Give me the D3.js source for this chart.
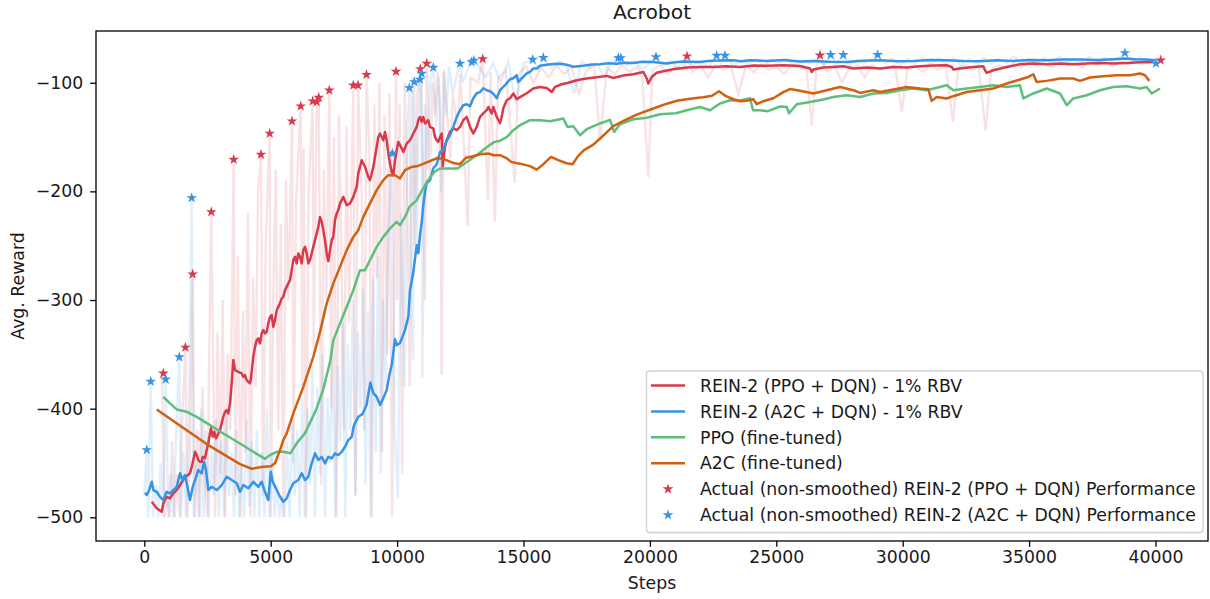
<!DOCTYPE html>
<html>
<head>
<meta charset="utf-8">
<script src="https://cdn.jsdelivr.net/npm/d3@7"></script>
<style>
  body { margin: 0; background: #fff; }
  text { font-family: "DejaVu Sans", sans-serif; fill: #1a1a1a; }
</style>
</head>
<body>
<svg id="chart" width="1210" height="599"></svg>
<script>
// [step, avg reward]
const rawPpo = [
  [700,-367],[800,-500],[900,-480],[1000,-500],[1100,-430],[1200,-500],[1300,-460],[1400,-500],[1500,-410],[1625,-344],
  [1700,-500],[1800,-450],[1913,-276],[2000,-500],[2100,-420],[2200,-500],[2300,-380],[2400,-470],[2500,-500],[2560,-360],
  [2650,-219],[2800,-500],[2900,-330],[3000,-460],[3100,-300],[3200,-500],[3300,-350],[3400,-420],[3536,-171],[3600,-480],
  [3700,-260],[3800,-500],[3900,-310],[4000,-440],[4100,-220],[4200,-500],[4300,-280],[4400,-380],[4500,-200],[4616,-166],
  [4700,-480],[4800,-250],[4960,-147],[5000,-500],[5100,-300],[5200,-180],[5300,-420],[5400,-230],[5500,-500],[5600,-190],
  [5700,-300],[5843,-135],[5900,-450],[6000,-210],[6186,-122],[6250,-380],[6300,-160],[6400,-500],[6500,-200],[6661,-117],
  [6700,-350],[6820,-118],[6899,-114],[7000,-470],[7100,-180],[7200,-300],[7318,-107],[7400,-400],[7500,-150],[7600,-500],
  [7700,-130],[7800,-260],[7900,-420],[8000,-140],[8100,-320],[8268,-102],[8350,-480],[8454,-102],[8600,-200],[8700,-420],
  [8790,-93],[8900,-160],[9000,-500],[9100,-120],[9200,-280],[9300,-100],[9400,-440],[9500,-130],[9600,-350],[9700,-110],
  [9800,-500],[9957,-90],[10000,-300],[10100,-120],[10200,-460],[10300,-100],[10400,-200],[10500,-380],[10600,-95],[10700,-250],
  [10800,-110],[10918,-87],[11000,-160],[11100,-300],[11171,-82],[11300,-190],[11400,-100],[11500,-130],[11600,-90],[11700,-120],
  [11760,-369],[11850,-88],[12100,-170],[12200,-110],[12400,-140],[12500,-92],[12793,-232],[12900,-95],[13200,-100],[13386,-78],
  [13592,-208],[13700,-90],[13869,-228],[14000,-96],[14300,-88],[14652,-192],[14800,-92],[15100,-85],[15400,-100],[15700,-86],
  [16000,-95],[16300,-84],[16600,-92],[16900,-86],[17200,-110],[17500,-88],[17800,-84],[18027,-153],[18300,-86],[18600,-92],
  [18900,-84],[19200,-90],[19500,-85],[19700,-95],[19937,-187],[20100,-88],[20400,-84],[20700,-92],[21000,-85],[21300,-88],
  [21468,-76],[21700,-90],[22000,-84],[22300,-95],[22600,-84],[22900,-88],[23200,-85],[23500,-110],[23800,-84],[24100,-90],
  [24400,-84],[24700,-88],[25000,-85],[25300,-92],[25600,-84],[25900,-86],[26200,-88],[26400,-139],[26600,-84],[26730,-75],
  [27000,-90],[27300,-84],[27600,-100],[27900,-86],[28200,-84],[28500,-95],[28800,-84],[29100,-88],[29400,-86],[29700,-84],
  [29960,-127],[30200,-86],[30500,-84],[30800,-90],[31100,-84],[31400,-88],[31700,-84],[31990,-136],[32200,-86],[32500,-84],
  [32800,-88],[33000,-84],[33280,-144],[33500,-88],[33800,-84],[34100,-86],[34400,-82],[34700,-86],[35000,-80],[35300,-85],
  [35600,-82],[35900,-86],[36200,-80],[36500,-84],[36800,-82],[37100,-86],[37400,-80],[37700,-84],[38000,-80],[38300,-85],
  [38600,-80],[38900,-84],[39200,-80],[39500,-83],[39800,-80],[40206,-79]
];

const rawA2c = [
  [0,-480],[95,-438],[150,-500],[253,-375],[350,-500],[450,-470],[550,-500],[650,-450],[750,-500],[846,-373],
  [950,-500],[1050,-460],[1150,-500],[1250,-430],[1384,-352],[1450,-500],[1550,-440],[1650,-500],[1750,-420],[1875,-206],
  [1950,-500],[2050,-450],[2150,-500],[2250,-400],[2350,-500],[2450,-420],[2550,-500],[2650,-440],[2750,-480],[2850,-410],
  [2950,-500],[3050,-430],[3150,-500],[3250,-400],[3350,-480],[3450,-440],[3550,-500],[3650,-420],[3750,-500],[3850,-450],
  [3950,-500],[4050,-410],[4150,-490],[4250,-430],[4350,-500],[4450,-420],[4550,-500],[4650,-440],[4750,-500],[4850,-400],
  [4950,-500],[5050,-440],[5150,-500],[5250,-470],[5350,-500],[5450,-480],[5550,-500],[5650,-430],[5750,-500],[5850,-410],
  [5950,-480],[6050,-420],[6150,-500],[6250,-390],[6350,-500],[6450,-400],[6550,-470],[6650,-360],[6750,-500],[6850,-380],
  [6950,-460],[7050,-350],[7150,-500],[7250,-390],[7350,-450],[7450,-340],[7550,-500],[7650,-360],[7750,-430],[7850,-320],
  [7950,-500],[8050,-340],[8150,-420],[8250,-300],[8350,-480],[8450,-330],[8550,-400],[8650,-290],[8750,-470],[8850,-310],
  [8950,-500],[9050,-280],[9150,-440],[9250,-260],[9350,-460],[9450,-300],[9550,-380],[9650,-240],[9811,-165],[9900,-420],
  [10030,-482],[10150,-220],[10300,-380],[10400,-150],[10483,-105],[10560,-300],[10630,-355],[10680,-99],[10780,-250],[10850,-140],
  [10906,-97],[10972,-92],[11000,-371],[11100,-120],[11200,-180],[11300,-100],[11432,-86],[11550,-140],[11650,-95],[11750,-200],
  [11850,-90],[11950,-130],[12050,-85],[12200,-110],[12350,-95],[12488,-82],[12600,-100],[12750,-90],[12951,-81],[13040,-80],
  [13200,-84],[13500,-95],[13800,-82],[14100,-100],[14400,-80],[14700,-120],[15000,-82],[15364,-79],[15600,-88],[15785,-77],
  [16100,-86],[16400,-80],[16700,-84],[17000,-110],[17300,-80],[17600,-86],[17900,-82],[18200,-95],[18500,-80],[18750,-77],
  [18850,-77],[19100,-84],[19400,-80],[19700,-88],[20000,-82],[20241,-76],[20500,-84],[20800,-80],[21100,-86],[21400,-79],
  [21700,-84],[22000,-80],[22300,-86],[22641,-75],[22800,-82],[22970,-75],[23300,-84],[23600,-80],[23900,-82],[24200,-78],
  [24500,-84],[24800,-79],[25100,-82],[25400,-78],[25700,-84],[26000,-80],[26300,-82],[26600,-78],[26900,-84],[27152,-74],
  [27400,-82],[27650,-74],[27900,-84],[28200,-79],[28500,-82],[28800,-78],[29010,-74],[29300,-82],[29600,-78],[29900,-84],
  [30200,-78],[30500,-82],[30800,-77],[31100,-83],[31400,-78],[31700,-82],[32000,-77],[32300,-84],[32600,-78],[32900,-82],
  [33200,-77],[33500,-83],[33800,-78],[34100,-82],[34400,-76],[34700,-82],[35000,-78],[35300,-83],[35600,-77],[35900,-82],
  [36200,-76],[36500,-82],[36800,-78],[37100,-81],[37400,-76],[37700,-82],[38000,-77],[38300,-81],[38790,-73],[39100,-80],
  [39400,-77],[39700,-82],[40020,-82]
];

const smoothPpo = [
  [293,-485.7],[491,-491.7],[688,-494.9],[752,-487.1],[886,-481.1],[1017,-482.5],[1147,-477.9],[1282,-474.9],[1412,-470.3],[1543,-465.7],
  [1677,-462],[1808,-459.5],[1875,-453.5],[1966,-444.3],[2006,-439.7],[2073,-442.7],[2136,-447.3],[2203,-448.9],[2271,-448.9],[2310,-444.3],
  [2401,-445.7],[2468,-438.1],[2532,-431.9],[2599,-422.7],[2638,-418.1],[2706,-425.9],[2769,-421.3],[2836,-427.3],[2904,-424.3],[2995,-419.7],
  [3125,-407.5],[3192,-402.9],[3260,-401.3],[3323,-404.3],[3390,-395.1],[3457,-376.7],[3521,-355.3],[3588,-364.5],[3718,-366.1],[3853,-367.5],
  [3916,-370.7],[3983,-369.1],[4051,-373.7],[4114,-375.3],[4181,-376.7],[4209,-373.7],[4312,-352.3],[4379,-343.1],[4446,-336.9],[4510,-335.3],
  [4577,-339.9],[4644,-330.7],[4707,-327.7],[4775,-330.7],[4842,-329.3],[4905,-321.5],[4972,-315.5],[5040,-313.9],[5103,-324.7],[5170,-318.5],
  [5238,-309.3],[5301,-306.3],[5368,-303.1],[5435,-298.5],[5499,-297.1],[5566,-290.9],[5633,-287.9],[5696,-284.7],[5764,-281.7],[5831,-272.5],
  [5894,-263.3],[5961,-260.3],[6029,-266.3],[6092,-257.1],[6159,-260.3],[6226,-266.3],[6290,-254.1],[6357,-251.1],[6424,-257.1],[6487,-266.3],
  [6555,-263.3],[6622,-257.1],[6685,-251.1],[6753,-244.9],[6820,-238.7],[6883,-232.7],[6950,-223.5],[7018,-228.1],[7081,-235.7],[7148,-244.9],
  [7215,-257.1],[7279,-264.2],[7346,-254.1],[7413,-244.9],[7477,-241.9],[7544,-226.5],[7611,-220.3],[7674,-217.3],[7742,-211.1],[7809,-208.1],
  [7872,-205.1],[8007,-212.7],[8137,-211.1],[8204,-208.1],[8268,-205.1],[8402,-195.9],[8465,-183.5],[8532,-177.5],[8600,-171.3],[8663,-174.3],
  [8730,-177.5],[8797,-182.1],[8861,-186.7],[8928,-189.7],[8995,-183.5],[9059,-177.5],[9193,-159.1],[9256,-149.9],[9324,-146.7],[9391,-149.9],
  [9454,-152.9],[9521,-145.3],[9589,-152.9],[9652,-165.1],[9719,-174.3],[9787,-182.1],[9850,-185.1],[9917,-171.3],[9984,-162.1],[10048,-154.5],
  [10115,-157.5],[10182,-160.5],[10246,-163.7],[10380,-155.9],[10511,-152.9],[10641,-146.7],[10776,-140.7],[10839,-134.5],[10906,-131.5],[10973,-136.1],
  [11037,-131.5],[11104,-137.5],[11171,-136.1],[11234,-134.5],[11302,-140.7],[11432,-142.1],[11499,-149.9],[11567,-152.9],[11630,-154.5],[11697,-149.9],
  [11765,-146.7],[11804,-176.8],[11895,-159.1],[11962,-152.9],[12093,-145.3],[12223,-142.1],[12358,-143.7],[12489,-140.7],[12619,-134.5],[12753,-131.5],
  [12884,-140.7],[13014,-146.7],[13149,-140.7],[13279,-131.5],[13410,-128.3],[13544,-125.3],[13608,-122.3],[13675,-125.3],[13742,-128.3],[13806,-122.3],
  [13873,-126.9],[13940,-131.5],[14071,-137.3],[14138,-131.5],[14202,-123.5],[14336,-116.1],[14467,-114.3],[14597,-109.9],[14731,-115.2],[14862,-113.3],
  [15127,-109.7],[15388,-105.3],[15653,-103.9],[15918,-104.9],[16116,-108.5],[16247,-103.9],[16512,-101.4],[16772,-100],[17037,-98.2],[17302,-96.8],
  [17563,-95.9],[17896,-94.9],[18291,-93.7],[18553,-95.6],[18948,-93.4],[19344,-92.2],[19740,-90.1],[19874,-96.1],[19937,-100.7],[20072,-94.7],
  [20269,-90.8],[20531,-89.4],[20926,-87.6],[21457,-85.9],[21982,-85.5],[22508,-85.5],[23038,-84.8],[23565,-85.5],[24091,-84.1],[24621,-84.4],
  [25277,-83.9],[25938,-84.6],[26334,-86.9],[26401,-90.1],[26464,-87.9],[26860,-86],[27256,-85.5],[27652,-84.8],[28047,-86.9],[28577,-86],
  [29102,-86.9],[29629,-85.5],[30159,-86],[30685,-84.8],[31211,-84.2],[31741,-83.9],[31939,-85.5],[32002,-87.9],[32267,-86.9],[32794,-85.5],
  [33189,-84.8],[33256,-88.5],[33323,-91],[33585,-88.5],[34114,-85.5],[34640,-83],[35166,-82.3],[35697,-83],[36223,-82.3],[36749,-83],
  [37279,-82.3],[37805,-81.8],[38331,-82.3],[38862,-81.8],[39388,-81.1],[39914,-80.9]
];

const smoothA2c = [
  [28,-477.4],[95,-479.5],[186,-475.5],[293,-467.3],[356,-474.9],[491,-476.5],[621,-481.1],[752,-484.1],[886,-476.5],[1017,-477.9],
  [1147,-474.9],[1282,-471.9],[1412,-459.5],[1519,-465.7],[1610,-461.1],[1677,-468.7],[1808,-484.1],[1915,-471.9],[2006,-465.7],[2136,-456.5],
  [2271,-459.5],[2362,-448.9],[2441,-456.5],[2532,-474.9],[2666,-471.9],[2864,-474.9],[3062,-470.3],[3260,-462.7],[3457,-465.7],[3655,-468.7],
  [3786,-476.5],[3916,-470.3],[4114,-473.3],[4312,-467.3],[4510,-471.9],[4644,-467.3],[4775,-476.5],[4905,-484.1],[5000,-458.1],[5079,-467.3],
  [5238,-474.9],[5368,-481.1],[5499,-485.7],[5633,-482.5],[5764,-474.9],[5894,-468.7],[6092,-465.7],[6226,-459.5],[6357,-465.7],[6487,-462.7],
  [6622,-450.3],[6753,-441.1],[6883,-447.3],[7018,-444.3],[7148,-450.3],[7279,-444.3],[7413,-445.7],[7544,-441.1],[7674,-442.7],[7809,-439.7],
  [7939,-435.1],[8070,-428.9],[8204,-425.9],[8295,-415.1],[8465,-407.5],[8631,-405],[8790,-396.7],[8940,-376],[9059,-385.7],[9193,-389.1],
  [9324,-396.7],[9454,-390.3],[9589,-382.9],[9692,-369.1],[9787,-359.9],[9917,-336],[9984,-341.5],[10115,-339.7],[10313,-327.7],[10443,-315.5],
  [10511,-290.9],[10641,-274.3],[10776,-249.5],[10839,-256.9],[10906,-240.3],[10973,-228.3],[11037,-212.7],[11104,-200.7],[11171,-192.5],[11302,-189.7],
  [11432,-178.7],[11567,-175],[11697,-163.9],[11828,-162.1],[11962,-152.9],[12093,-148.3],[12223,-140.7],[12358,-131.5],[12489,-125.3],[12619,-120.7],
  [12753,-119.8],[12884,-121.6],[13014,-114.3],[13149,-109.7],[13279,-108.7],[13410,-105.1],[13544,-106.9],[13675,-107.8],[13806,-110.1],[13940,-114.3],
  [14071,-106.9],[14268,-102.3],[14467,-96.8],[14597,-95.9],[14731,-93.1],[14794,-99.3],[14862,-97.7],[14992,-94.7],[15127,-91.5],[15257,-90.1],
  [15388,-86.9],[15522,-86.9],[15653,-84.4],[15918,-83.4],[16179,-82.8],[16444,-82.5],[16709,-83.4],[16970,-85.3],[17366,-84.4],[17700,-83.2],
  [18027,-83],[18350,-82.1],[18687,-82.5],[19000,-81.6],[19344,-81.8],[19700,-80.8],[20135,-80.9],[20665,-82.3],[21000,-81.2],[21322,-80.4],
  [21982,-80.9],[22300,-80.1],[22643,-79.6],[23301,-79.3],[23600,-80.2],[23960,-79.3],[24621,-79.9],[25277,-79],[25938,-80.5],[26464,-79.9],
  [27100,-80.6],[27785,-80.9],[28400,-79.8],[29102,-79.3],[29800,-80.3],[30420,-79.9],[31100,-79.1],[31741,-79.3],[32400,-80.1],[33058,-80.2],
  [33700,-79.4],[34376,-79.9],[35000,-79.1],[35697,-79.3],[36350,-78.6],[37014,-78.7],[37700,-79.1],[38331,-78.4],[38793,-77.7],[39200,-78.5],
  [39651,-78.7],[39980,-79.3]
];

const ppoTuned = [
  [752,-389.1],[1017,-395.1],[1282,-400.7],[1677,-402.9],[2073,-407.5],[2599,-415.1],[3125,-422.9],[3786,-432.1],[4312,-439.7],[4775,-446.2],
  [4972,-442.7],[5238,-439.7],[5499,-439.7],[5776,-441.1],[6029,-431.9],[6357,-422.5],[6792,-401.3],[7081,-382],[7346,-357.1],[7477,-336.9],
  [7742,-321.5],[8007,-306.5],[8268,-290.9],[8532,-272.5],[8730,-272.5],[8928,-263.3],[9193,-251.1],[9454,-241.9],[9719,-234.1],[9984,-228.1],
  [10115,-231.1],[10313,-223.5],[10487,-214.3],[10776,-208.1],[10946,-200.7],[11223,-189.7],[11460,-182.3],[11697,-178.9],[11974,-178.9],[12390,-178.9],
  [12805,-172.2],[13200,-165.8],[13517,-159.8],[13834,-154.7],[14071,-153.4],[14348,-149.9],[14597,-143.7],[14862,-139.1],[15257,-134.5],[15653,-134.5],
  [16049,-135.4],[16575,-132.9],[16741,-140.7],[16970,-140],[17235,-148.3],[17500,-142.8],[18027,-137.5],[18423,-134.2],[18581,-145.3],[18819,-138.2],
  [19344,-133.6],[19874,-132.2],[20399,-129],[21033,-128.1],[21457,-125.3],[21982,-122.3],[22378,-125.3],[22774,-119.1],[23169,-116.1],[23565,-116.4],
  [23960,-114.3],[24079,-125.3],[24356,-125.3],[24672,-126.2],[25146,-121.9],[25412,-122.3],[25503,-128.1],[25807,-119.8],[26334,-117.7],[26860,-115.5],
  [27256,-113.1],[27785,-111.5],[28311,-113.1],[28838,-109.9],[29366,-109.4],[29893,-106.9],[30420,-105.3],[30949,-106.9],[31475,-103.9],[31741,-102.3],
  [32002,-106.9],[32531,-105.3],[33058,-103.9],[33585,-102.3],[34114,-103.9],[34640,-102.3],[34771,-114.5],[35166,-109.9],[35697,-105.3],[36223,-109.9],
  [36488,-120.7],[36749,-114.5],[37279,-111.5],[37805,-106.9],[38331,-103.9],[38862,-103.2],[39388,-105.3],[39651,-103.9],[39849,-109.9],[40177,-105.3]
];

const a2cTuned = [
  [491,-400.7],[1147,-411.4],[1808,-422],[2468,-432.6],[3125,-441.8],[3786,-451],[4246,-455.3],[4707,-453.5],[5008,-453.1],[5170,-450.3],
  [5368,-438.1],[5499,-428.9],[5633,-422.7],[5894,-404.3],[6290,-379.9],[6685,-352.3],[6950,-329.3],[7215,-303.1],[7477,-284.7],[7742,-269.5],
  [8007,-254.1],[8268,-241.9],[8465,-235.7],[8663,-223.5],[8928,-211.1],[9193,-198.9],[9454,-189.7],[9652,-185.1],[9917,-185.1],[10115,-188.1],
  [10313,-180.5],[10578,-177.5],[10827,-176.6],[11223,-172.9],[11599,-169.3],[11855,-170.4],[12192,-173.6],[12489,-175],[12726,-169],[12963,-167.9],
  [13279,-165.8],[13596,-165.1],[13834,-166.7],[14071,-166.7],[14348,-169.7],[14526,-173.1],[14862,-174.5],[15257,-176.8],[15522,-180],[15784,-175],
  [16089,-168.3],[16377,-171.3],[16709,-174.1],[16939,-175],[17157,-167.6],[17394,-162.1],[17762,-157],[18106,-149.7],[18553,-140],[19016,-134.5],
  [19478,-129.4],[20135,-123.7],[20665,-119.3],[21072,-116.6],[21587,-114.7],[22101,-113.3],[22457,-112],[22734,-107.8],[23011,-112.4],[23301,-115.2],
  [23565,-117],[23830,-116.6],[24091,-115.2],[24226,-119.8],[24487,-117],[24882,-114.3],[25277,-108.7],[25542,-105.8],[25938,-107.4],[26464,-109.9],
  [26993,-106.9],[27519,-103.9],[28047,-106.9],[28311,-109.4],[28838,-106.9],[29102,-108.5],[29629,-106.3],[30159,-103.9],[30685,-105.3],[31014,-106],
  [31148,-116.7],[31346,-113.1],[31741,-114.5],[32002,-112.4],[32531,-108.5],[33058,-106.9],[33585,-105.3],[34114,-100.7],[34640,-97.1],[34968,-94.7],
  [35166,-92.2],[35300,-99.3],[35697,-98.3],[36223,-96.1],[36749,-96.1],[37014,-98.3],[37410,-95.2],[37936,-94],[38464,-93.1],[38990,-93.1],
  [39388,-91.5],[39585,-93.1],[39755,-98.3]
];

const starsPpo = [
  [752,-367.5],[1625,-343.6],[1913,-276.2],[2650,-218.9],[3536,-170.7],[4616,-166.1],[4960,-146.7],[5843,-135.4],[6186,-121.6],[6661,-117],
  [6820,-117.7],[6899,-113.6],[7318,-106.9],[8268,-102.3],[8454,-102.3],[8790,-92.6],[9957,-89.7],[10918,-87.3],[11171,-82.3],[13386,-78.1],
  [21468,-75.6],[26730,-74.7],[40206,-79.3]
];

const starsA2c = [
  [95,-438],[253,-375],[846,-373],[1384,-352.5],[1875,-206],[9811,-165],[10483,-104.8],[10680,-99.3],[10906,-97],[10972,-91.5],
  [11432,-86],[12488,-82.3],[12951,-80.9],[13040,-79.5],[15364,-78.7],[15785,-77],[18750,-77.2],[18850,-77.2],[20241,-76.3],[22641,-75],
  [22970,-75],[27152,-74.3],[27650,-74.3],[29010,-74.3],[38790,-72.6],[40020,-82.2]
];

const xTicks = [0, 5000, 10000, 15000, 20000, 25000, 30000, 35000, 40000];
const yTicks = [-500, -400, -300, -200, -100];

const legendLabels = [
  'REIN-2 (PPO + DQN) - 1% RBV',
  'REIN-2 (A2C + DQN) - 1% RBV',
  'PPO (fine-tuned)',
  'A2C (fine-tuned)',
  'Actual (non-smoothed) REIN-2 (PPO + DQN) Performance',
  'Actual (non-smoothed) REIN-2 (A2C + DQN) Performance'
];

const red = '#d93a4b', blue = '#3694e6', green = '#5dbe7d', orange = '#d06111';
const plot = {left: 96, top: 31, right: 1208, bottom: 541};
const fs = 17.3;

const svg = d3.select('#chart');

let x = d3.scaleLinear().domain([-1911, 42077]).range([plot.left, plot.right]);
let y = d3.scaleLinear().domain([-521.8, -52.4]).range([plot.bottom, plot.top]);

svg.append('defs').append('clipPath').attr('id', 'clip')
    .append('rect')
    .attr('x', plot.left).attr('y', plot.top)
    .attr('width', plot.right - plot.left).attr('height', plot.bottom - plot.top);

const line = d3.line().x(d => x(d[0])).y(d => y(d[1]));
const area = svg.append('g').attr('clip-path', 'url(#clip)');

// raw episodes, very faint
area.append('path').datum(rawPpo)
    .attr('d', line).attr('fill', 'none')
    .attr('stroke', red).attr('stroke-opacity', 0.15).attr('stroke-width', 2.4);
area.append('path').datum(rawA2c)
    .attr('d', line).attr('fill', 'none')
    .attr('stroke', blue).attr('stroke-opacity', 0.15).attr('stroke-width', 2.4);

// smoothed curves
[[smoothPpo, red], [smoothA2c, blue], [ppoTuned, green], [a2cTuned, orange]].forEach(([data, c]) => {
    area.append('path').datum(data)
        .attr('d', line).attr('fill', 'none')
        .attr('stroke', c).attr('stroke-width', 2.5)
        .attr('stroke-linejoin', 'round');
});

const star = d3.symbol(d3.symbolStar, 36);
[[starsPpo, red], [starsA2c, blue]].forEach(([data, c]) => {
    area.append('g').selectAll('path').data(data).join('path')
        .attr('transform', d => `translate(${x(d[0])},${y(d[1])})`)
        .attr('d', star).attr('fill', c);
});

// axes
const xAxis = svg.append('g')
    .attr('transform', `translate(0,${plot.bottom})`)
    .call(d3.axisBottom(x).tickValues(xTicks).tickFormat(d3.format('d')).tickSize(5.8).tickPadding(4.3));
const yAxis = svg.append('g')
    .attr('transform', `translate(${plot.left},0)`)
    .call(d3.axisLeft(y).tickValues(yTicks).tickFormat(d => '\u2212' + Math.abs(d)).tickSize(5.8).tickPadding(7));

[xAxis, yAxis].forEach(a => {
    a.select('.domain').remove();
    a.selectAll('line').attr('stroke', '#000').attr('stroke-width', 1.3);
    a.selectAll('text').attr('font-family', '"DejaVu Sans", sans-serif').attr('font-size', fs).attr('fill', '#1a1a1a');
});

svg.append('rect')
    .attr('x', plot.left).attr('y', plot.top)
    .attr('width', plot.right - plot.left).attr('height', plot.bottom - plot.top)
    .attr('fill', 'none').attr('stroke', '#000').attr('stroke-width', 1.3);

svg.append('text').attr('x', 652).attr('y', 18.5)
    .attr('text-anchor', 'middle').attr('font-size', 20.3).text('Acrobot');
svg.append('text').attr('x', 652).attr('y', 588.5)
    .attr('text-anchor', 'middle').attr('font-size', fs).text('Steps');
svg.append('text').attr('transform', 'translate(24,286) rotate(-90)')
    .attr('text-anchor', 'middle').attr('font-size', fs).text('Avg. Reward');

// legend
const lg = svg.append('g');
lg.append('rect')
    .attr('x', 646.5).attr('y', 371).attr('width', 556.5).attr('height', 161.5).attr('rx', 3)
    .attr('fill', '#fff').attr('fill-opacity', 0.8).attr('stroke', '#d0d0d0').attr('stroke-width', 1.3);

const legendColors = [red, blue, green, orange, red, blue];
legendLabels.forEach((lab, i) => {
    const cy = 385.5 + i * 25.9;
    if (i < 4) {
        lg.append('line').attr('x1', 651).attr('x2', 685).attr('y1', cy).attr('y2', cy)
            .attr('stroke', legendColors[i]).attr('stroke-width', 2.5);
    } else {
        lg.append('path').attr('transform', `translate(668,${cy})`)
            .attr('d', star).attr('fill', legendColors[i]);
    }
    lg.append('text').attr('x', 700).attr('y', cy).attr('dy', '0.36em')
        .attr('font-size', fs).text(lab);
});
</script>
</body>
</html>
